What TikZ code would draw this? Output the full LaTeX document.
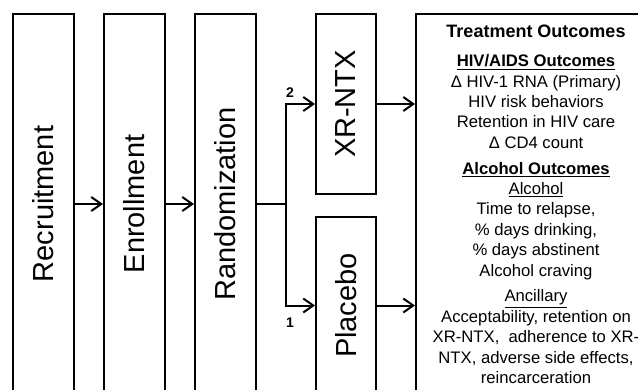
\documentclass[tikz,border=0pt]{standalone}
\usepackage{fontspec}
\setmainfont{Liberation Sans}
\usetikzlibrary{arrows.meta}

\begin{document}
\begin{tikzpicture}[
  x=0.75pt, y=-0.75pt,
  every node/.style={inner sep=0pt},
  stage/.style={rectangle, draw, line width=1.5pt,
                minimum width=45.75pt, minimum height=285pt,
                font=\fontsize{21.75}{26}\selectfont},
  arm/.style={rectangle, draw, line width=1.5pt,
              minimum width=45pt, minimum height=#1,
              font=\fontsize{21.75}{26}\selectfont},
  outbox/.style={rectangle, draw, line width=1.5pt,
                 minimum width=180pt, minimum height=285pt, align=center,
                 font=\fontsize{12.5}{15.3}\selectfont},
  fwd/.style={-{Straight Barb[length=7.5pt, width=10.5pt]}, line width=1.5pt},
  num/.style={font=\fontsize{10.5}{12}\selectfont\bfseries}
]
\useasboundingbox (0,0) rectangle (638,389);
\clip (0,0) rectangle (638,389);

% Stages
\node[stage] (rec) at (43.5,204)  {\rotatebox{90}{Recruitment}};
\node[stage] (enr) at (134.5,204) {\rotatebox{90}{Enrollment}};
\node[stage] (ran) at (225.5,204) {\rotatebox{90}{Randomization}};

% Study arms
\node[arm=135pt]    (xr)  at (346,104)   {\rotatebox{90}{XR-NTX}};
\node[arm=132.75pt] (pla) at (346,305.5) {\rotatebox{90}{Placebo}};

% Outcomes
\node[outbox] (out) at (536,204) {%
  {\fontsize{13.5}{15}\selectfont\bfseries Treatment Outcomes}\\[7pt]
  \textbf{\underline{HIV/AIDS Outcomes}}\\
  Δ HIV-1 RNA (Primary)\\
  HIV risk behaviors\\
  Retention in HIV care\\
  Δ CD4 count\\[4pt]
  \textbf{\underline{Alcohol Outcomes}}\\
  \underline{Alcohol}\\
  Time to relapse,\\
  \% days drinking,\\
  \% days abstinent\\
  Alcohol craving\\[4pt]
  \underline{Ancillary}\\
  Acceptability, retention on\\
  XR-NTX,\ \ adherence to XR-\\
  NTX, adverse side effects,\\
  reincarceration};

% Flow
\coordinate (br) at (286,204);
\draw[fwd] (rec) -- (enr);
\draw[fwd] (enr) -- (ran);
\draw[line width=1.5pt] (ran.east |- br) -- (br);
\draw[fwd] (br) |- (xr.west);
\draw[fwd] (br) |- (pla.west);
\draw[fwd] (xr.east) -- (xr.east -| out.west);
\draw[fwd] (pla.east) -- (pla.east -| out.west);

% Allocation labels
\node[num] (two) at (290,93)  {2};
\node[num] (one) at (290,323) {1};

\end{tikzpicture}
\end{document}
